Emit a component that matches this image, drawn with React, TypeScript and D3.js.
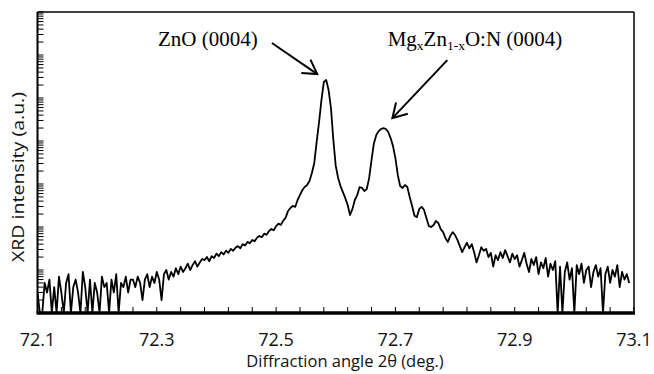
import React from "react";
import * as d3 from "d3";

// 2θ grid: start and step (deg.)
const angleStart = 72.1;
const angleStep = 0.004;

// XRD counts (log scale)
const counts = [
  3, 1, 1, 5, 3, 6, 1, 4, 1, 7, 3, 1, 5, 8, 1, 4, 6, 3, 1, 9,
  4, 1, 6, 1, 5, 3, 1, 7, 4, 5, 1, 6, 3, 8, 1, 5, 4, 7, 3, 6,
  6, 4, 7, 5, 2, 6, 8, 4, 7, 5, 9, 6, 2, 8, 10, 6, 9, 7, 11, 8,
  12, 9, 11, 14, 10, 13, 16, 12, 15, 18,
  17, 20, 16, 21, 19, 24, 21, 26, 23, 28, 25, 31, 28, 33, 36, 32, 40, 37, 45, 42,
  50, 47, 56, 62, 58, 70, 66, 80, 90, 84, 105, 120, 112, 140, 165,
  235, 277, 309, 293, 425, 550, 720, 850, 950, 1170,
  1810, 3090, 9500, 27600, 89700, 235000, 262000, 153000, 58500, 10500,
  2630, 1380, 895, 650, 470, 325, 190, 263, 425, 550,
  850, 810, 690, 760, 1380, 3620, 8900, 13800, 17000, 19000,
  20000, 19000, 16200, 11700, 7600, 4000, 1620, 895, 810, 950,
  850, 500, 309, 182, 170, 263, 295, 250, 162, 105,
  100, 111, 138, 123, 89, 76,
  55, 45, 62, 76, 65, 50, 36, 26, 34, 43, 32, 40, 26, 15, 22, 34, 28, 31, 20, 25,
  12, 22, 17, 26, 19, 29, 21, 15, 24, 18,
  22, 12, 17, 25, 14, 9, 18, 13, 20, 8, 15, 11, 19, 7, 14, 10, 16, 1, 12, 1,
  9, 15, 6, 11, 1, 13, 8, 14, 5, 10, 12, 4, 9, 13, 7, 11, 1, 8, 12, 5,
  10, 7, 13, 4, 9, 6, 8, 5,
];

const xTickLabels = [72.1, 72.3, 72.5, 72.7, 72.9, 73.1];
const xMinorStep = 0.04;
const yDomain = [1, 1e7];

// annotations: [angle, intensity] for text anchor, arrow start, arrow tip
const znoLabelPos = [72.302, 1.6e6];
const znoArrow = [[72.493, 1.9e6], [72.569, 3.6e5]];
const mgLabelPos = [72.687, 1.6e6];
const mgArrow = [[72.787, 7.6e5], [72.695, 3.4e4]];

const W = 654;
const H = 374;
const left = 37.5;
const right = 634;
const top = 12;
const bottom = 313;

export default function App() {
  const x = d3.scaleLinear().domain([72.1, 73.1]).range([left, right]);
  const y = d3.scaleLog().domain(yDomain).range([bottom, top]);

  const data = counts.map((c, i) => ({ a: angleStart + i * angleStep, c }));
  const line = d3
    .line<{ a: number; c: number }>()
    .x((d) => x(d.a))
    .y((d) => y(Math.max(d.c, yDomain[0])));

  const xTicks = d3.range(0, 26).map((k) => 72.1 + k * xMinorStep);
  const yTicks: number[] = [];
  for (let d = 0; d < 7; d++) {
    for (let k = 1; k <= 9; k++) yTicks.push(k * Math.pow(10, d));
  }
  yTicks.push(1e7);

  const arrow = (pts: number[][], key: string) => {
    const [s, t] = pts;
    const x1 = x(s[0]), y1 = y(s[1]);
    const x2 = x(t[0]), y2 = y(t[1]);
    const ang = Math.atan2(y1 - y2, x1 - x2);
    const L = 16;
    const b1 = [x2 + L * Math.cos(ang + 0.53), y2 + L * Math.sin(ang + 0.53)];
    const b2 = [x2 + L * Math.cos(ang - 0.53), y2 + L * Math.sin(ang - 0.53)];
    return (
      <g key={key} stroke="#000" strokeWidth={2} fill="none">
        <line x1={x1} y1={y1} x2={x2} y2={y2} />
        <polyline points={`${b1[0]},${b1[1]} ${x2},${y2} ${b2[0]},${b2[1]}`} />
      </g>
    );
  };

  return (
    <div style={{ position: "fixed", left: 0, top: 0 }}>
      <svg width={W} height={H} style={{ display: "block", background: "#fff" }}>
        <defs>
          <clipPath id="plotclip">
            <rect x={left} y={top} width={right - left} height={bottom - top} />
          </clipPath>
        </defs>
        <path
          d={line(data) || ""}
          fill="none"
          stroke="#000"
          strokeWidth={1.8}
          strokeLinejoin="round"
          clipPath="url(#plotclip)"
        />
        {/* frame */}
        <line x1={left} y1={top} x2={right} y2={top} stroke="#000" strokeWidth={1.5} />
        <line x1={right} y1={top} x2={right} y2={bottom} stroke="#000" strokeWidth={1.5} />
        <line x1={left} y1={top} x2={left} y2={bottom} stroke="#000" strokeWidth={2} />
        <line x1={left - 1} y1={bottom} x2={right + 1} y2={bottom} stroke="#000" strokeWidth={3.5} />
        {/* x ticks */}
        {xTicks.map((t, i) => (
          <line key={"xt" + i} x1={x(t)} x2={x(t)} y1={bottom} y2={bottom - 6} stroke="#000" strokeWidth={1} />
        ))}
        {xTickLabels.map((t) => (
          <text
            key={"xl" + t}
            x={x(t)}
            y={346}
            textAnchor="middle"
            fontFamily="'Open Sans', sans-serif"
            fontSize={18}
            fill="#111"
          >
            {t.toFixed(1)}
          </text>
        ))}
        {/* y ticks */}
        {yTicks.map((t, i) => (
          <line key={"yt" + i} x1={left} x2={left + 6} y1={y(t)} y2={y(t)} stroke="#000" strokeWidth={1} />
        ))}
        {/* axis titles */}
        <text
          x={345}
          y={367}
          textAnchor="middle"
          fontFamily="'Open Sans', sans-serif"
          fontSize={16.5}
          fill="#111"
        >
          Diffraction angle 2θ (deg.)
        </text>
        <text
          transform="translate(24,177) rotate(-90)"
          textAnchor="middle"
          fontFamily="'Open Sans', sans-serif"
          fontSize={17}
          fill="#111"
          textLength={170}
          lengthAdjust="spacingAndGlyphs"
        >
          XRD intensity (a.u.)
        </text>
        {/* annotations */}
        <text
          x={x(znoLabelPos[0])}
          y={y(znoLabelPos[1])}
          fontFamily="'Liberation Serif', 'Times New Roman', serif"
          fontSize={21}
          fill="#000"
        >
          ZnO (0004)
        </text>
        <text
          x={x(mgLabelPos[0])}
          y={y(mgLabelPos[1])}
          fontFamily="'Liberation Serif', 'Times New Roman', serif"
          fontSize={21}
          fill="#000"
        >
          Mg
          <tspan fontSize={13.5} dy={4}>x</tspan>
          <tspan dy={-4}>Zn</tspan>
          <tspan fontSize={13.5} dy={4}>1-x</tspan>
          <tspan dy={-4}>O:N (0004)</tspan>
        </text>
        {arrow(znoArrow, "a1")}
        {arrow(mgArrow, "a2")}
      </svg>
    </div>
  );
}
